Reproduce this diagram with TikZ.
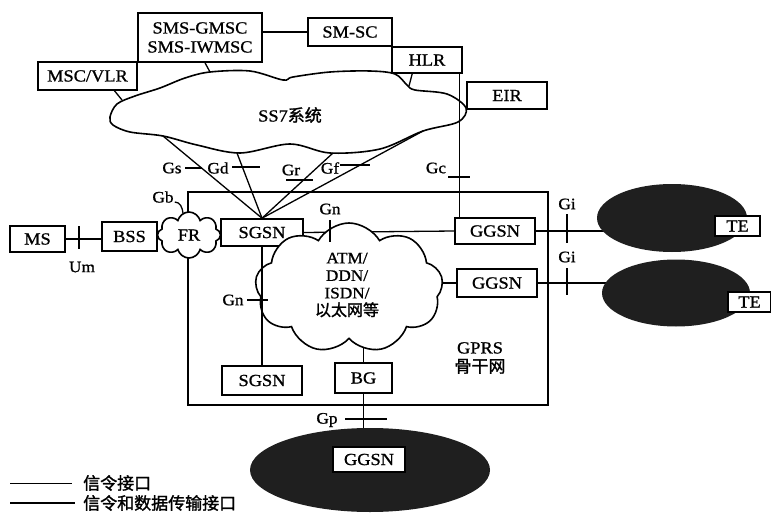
\documentclass[tikz,border=0pt]{standalone}
\usepackage{fontspec}
\setmainfont{Liberation Serif}[FakeStretch=1.08,FakeBold=1]
\newfontfamily\cjk{Noto Sans CJK SC}[FakeBold=1.5]
\usetikzlibrary{shapes.symbols,shapes.geometric,calc}
\pgfdeclarelayer{bg}
\pgfsetlayers{bg,main}
\begin{document}
\begin{tikzpicture}[x=1pt,y=-1pt,
  box/.style={draw,line width=1.6pt,fill=white,inner sep=0pt,font=\fontsize{17}{19}\selectfont},
  lab/.style={inner sep=0pt,font=\fontsize{16}{17}\selectfont},
  sig/.style={line width=1.3pt},
  tick/.style={line width=1.3pt},
  darknet/.style={ellipse,fill=black!88,draw=none,inner sep=0pt},
  puff/.style={cloud,draw,line width=1.6pt,fill=white,inner sep=0pt}]
\useasboundingbox (0,0) rectangle (771,532);

% ---- boxes
\node[box,minimum width=124,minimum height=49,align=center] (smsg) at (200,37.5) {SMS-GMSC\\SMS-IWMSC};
\node[box,minimum width=84,minimum height=28] (smsc) at (350,32) {SM-SC};
\node[box,minimum width=99,minimum height=28] (msc) at (87.5,76) {MSC/VLR};
\node[box,minimum width=70,minimum height=26] (hlr) at (427,60) {HLR};
\node[box,minimum width=80,minimum height=27] (eir) at (507,95.5) {EIR};
\node[box,minimum width=55,minimum height=26] (ms) at (37.5,239) {MS};
\node[box,minimum width=55,minimum height=29] (bss) at (129.5,236.5) {BSS};
\node[puff,cloud puffs=8,minimum width=63,minimum height=46,font=\fontsize{17}{19}\selectfont] (fr) at (189,235) {FR};
\node[box,minimum width=82,minimum height=27] (sgsn) at (262,232.5) {SGSN};
\node[box,minimum width=80,minimum height=26] (ggsn1) at (495,231) {GGSN};
\node[box,minimum width=80,minimum height=28] (ggsn2) at (497,283) {GGSN};
\node[box,minimum width=80,minimum height=29] (sgsn2) at (262,380.5) {SGSN};
\node[box,minimum width=57,minimum height=30] (bg) at (363.5,378) {BG};

% ---- ATM cloud
\node[puff,cloud puffs=9,cloud puff arc=120,aspect=1.4,minimum width=188,minimum height=130] (atm) at (349,288) {};
\node[inner sep=0pt,align=center,font=\fontsize{16}{17.5}\selectfont] (atmtxt) at (347,285) {ATM/\\DDN/\\ISDN/\\{\cjk 以太网等}};

% ---- external networks
\node[darknet,minimum width=150,minimum height=68] (net1) at (672,218) {};
\node[darknet,minimum width=148,minimum height=67] (net2) at (676,293) {};
\node[darknet,minimum width=240,minimum height=84] (net3) at (370,470) {};
\node[box,minimum width=45,minimum height=20] (te1) at (737.5,226) {TE};
\node[box,minimum width=43,minimum height=20] (te2) at (749.5,302) {TE};
\node[box,minimum width=72,minimum height=25] (ogsn) at (369,459.5) {GGSN};

% ---- texts
\node[inner sep=0pt,font=\fontsize{17}{19}\selectfont] (ss7txt) at (290,115) {SS7{\cjk 系统}};
\node[inner sep=0pt,align=center,font=\fontsize{17}{19}\selectfont] (gprs) at (480,358) {GPRS\\{\cjk 骨干网}};
\node[lab] (gs) at (172,168) {Gs};
\node[lab] (gd) at (218,168) {Gd};
\node[lab] (gr) at (291,170) {Gr};
\node[lab] (gf) at (330,168) {Gf};
\node[lab] (gc) at (436,168) {Gc};
\node[lab] (gb) at (163,197) {Gb};
\node[lab] (um) at (82,267) {Um};
\node[lab] (gn1) at (330,209) {Gn};
\node[lab] (gn2) at (233,300) {Gn};
\node[lab] (gi1) at (567,204) {Gi};
\node[lab] (gi2) at (567,257) {Gi};
\node[lab] (gp) at (327,420) {Gp};

% ---- legend
\coordinate (l1a) at (10,483); \coordinate (l1b) at (72,483);
\coordinate (l2a) at (10,503); \coordinate (l2b) at (75,503);
\draw[line width=1pt] (l1a) -- (l1b);
\draw[line width=1.8pt] (l2a) -- (l2b);
\node[anchor=west,inner sep=0pt,font=\cjk\fontsize{17}{19}\selectfont] (leg1) at (83,483) {信令接口};
\node[anchor=west,inner sep=0pt,font=\cjk\fontsize{17}{19}\selectfont] (leg2) at (83,503) {信令和数据传输接口};

\begin{pgfonlayer}{bg}
  % SS7 cloud
  \draw[line width=1.6pt,fill=white] plot[smooth cycle,tension=0.55] coordinates {
    (110,117) (117,104) (135,96) (160,88) (185,78) (210,72) (250,71) (283,80) (293,77)
    (330,72) (370,71) (395,74) (407,85) (415,90) (447,94) (466,108) (458,122) (423,131)
    (380,149) (330,153) (290,144) (240,153) (197,145) (163,136) (130,132) (113,125)};
  \coordinate (cmsc) at (122,100);
  \coordinate (csms) at (210,72);
  \coordinate (chlr) at (409,86);
  \coordinate (cgs) at (163,136);
  \coordinate (cgd) at (237,153);
  \coordinate (cgr) at (333,153);
  \coordinate (cgf) at (423,131);
  % GPRS backbone
  \draw[line width=1.8pt] (188,192) rectangle (548,405);
  % signalling lines
  \draw[sig] (smsc.west -| smsg.east) -- (smsc.west);
  \draw[sig] (msc.south) ++(27,0) coordinate (mscb) -- (cmsc);
  \draw[sig] (smsg.south) ++(5,0) coordinate (smsb) -- (csms);
  \draw[sig] ($(hlr.south west)+(21,0)$) coordinate (hlrb) -- (chlr);
  \draw[sig] ($(hlr.south east)+(-3,0)$) coordinate (gctop) -- (gctop |- ggsn1.north);
  \draw[sig] (cgs) -- (sgsn.north);
  \draw[sig] (cgd) -- (sgsn.north);
  \draw[sig] (cgr) -- (sgsn.north);
  \draw[sig] (cgf) -- (sgsn.north);
  % data lines
  \draw[sig] (ms.east) -- (ms.east -| bss.west);
  \draw[sig] (sgsn.east) -- (ggsn1.west);
  \draw[sig] (ggsn2.west) -- (ggsn2.west -| atm.east);
  \draw[sig] (bg.north) -- (bg.north |- atm.south);
  \draw[sig] (ggsn1.east) -- (ggsn1.east -| net1.center);
  \draw[sig] (ggsn2.east) -- (ggsn2.east -| net2.center);
  \draw[sig] (bg.south) -- (bg.south |- net3.center);
\end{pgfonlayer}

% lines over the cloud
\draw[sig] (sgsn.south) -- (sgsn2.north);
\draw[sig] (gb.east) ++(1,5) coordinate (gbs) to[out=0,in=95] ($(fr.north)+(-6,2)$);

% ticks
\draw[tick] (79,226) -- (79,249);
\draw[tick] (185,168) -- (202,168);
\draw[tick] (232,167) -- (260,167);
\draw[tick] (286,180) -- (313,180);
\draw[tick] (340,165) -- (370,165);
\draw[tick] (448,177) -- (470,177);
\draw[tick] (330,220) -- (330,242);
\draw[tick] (247,300) -- (268,300);
\draw[tick] (567,214) -- (567,243);
\draw[tick] (567,268) -- (567,295);
\draw[tick] (345,419) -- (387,419);
\end{tikzpicture}
\end{document}
